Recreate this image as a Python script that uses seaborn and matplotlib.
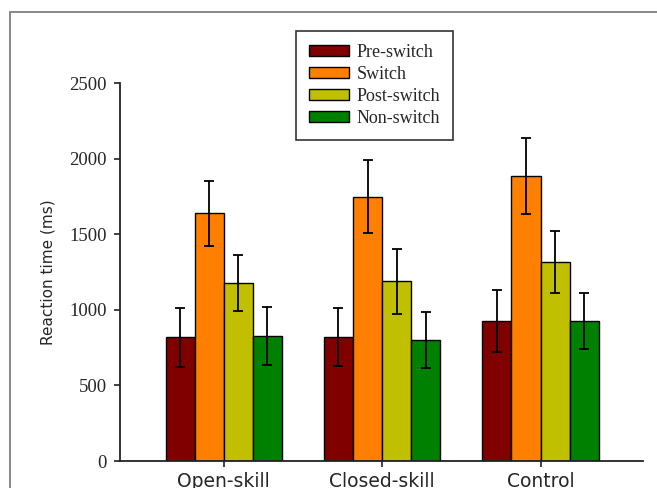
import pandas as pd
import numpy as np
import matplotlib
matplotlib.use("Agg")
import matplotlib.pyplot as plt
import matplotlib.patches as mpatches
import seaborn as sns

groups = ["Open-skill", "Closed-skill", "Control"]
conditions = ["Pre-switch", "Switch", "Post-switch", "Non-switch"]
pre_switch = [820, 820, 928]
switch = [1640, 1748, 1885]
post_switch = [1180, 1190, 1316]
non_switch = [828, 800, 926]
pre_err = [195, 190, 206]
switch_err = [215, 240, 250]
post_err = [185, 215, 207]
non_err = [190, 187, 182]
colors = ["#800000", "#FF8000", "#C0C000", "#008000"]

sns.set_theme(style="ticks")
plt.rcParams['font.family'] = ['DejaVu Sans']

rows = []
for cond, vals in zip(conditions, [pre_switch, switch, post_switch, non_switch]):
    for g, v in zip(groups, vals):
        rows.append({"Group": g, "Condition": cond, "RT": v})
df = pd.DataFrame(rows)
errs = [pre_err, switch_err, post_err, non_err]

fig = plt.figure(figsize=(6.57, 4.88), dpi=100)
ax = fig.add_axes([120/657, 1-461/488, (643-120)/657, (461-83)/488])

sns.barplot(data=df, x="Group", y="RT", hue="Condition", order=groups, hue_order=conditions,
            palette=colors, width=0.735, errorbar=None, saturation=1,
            edgecolor="black", linewidth=1, ax=ax)

# error bars on top of each bar
for cont, e_list in zip(ax.containers, errs):
    for bar, e in zip(cont, e_list):
        xc = bar.get_x() + bar.get_width() / 2
        ax.errorbar(xc, bar.get_height(), yerr=e, fmt="none", ecolor="black",
                    elinewidth=1.3, capsize=3.3, capthick=1.3, zorder=5)

ax.set_ylim(0, 2500)
ax.set_yticks([0, 500, 1000, 1500, 2000, 2500])
ax.set_xlim(-0.655, 2.647)
ax.set_xlabel("")
ax.set_ylabel("Reaction time (ms)", fontsize=11, labelpad=10, family="DejaVu Sans")
sns.despine(ax=ax)
for s in ["left", "bottom"]:
    ax.spines[s].set_linewidth(1.3)
    ax.spines[s].set_color("#222222")
ax.tick_params(axis="both", direction="out", length=4.3, width=1.2, color="#222222")
ax.tick_params(axis="y", pad=5)
for t in ax.get_yticklabels():
    t.set_family("Liberation Serif")
    t.set_fontsize(13.5)
for t in ax.get_xticklabels():
    t.set_family("DejaVu Sans")
    t.set_fontsize(13.5)

handles, labels = ax.get_legend_handles_labels()
leg = ax.legend(handles, labels, loc="upper left", bbox_to_anchor=(296/657, 1-31/488),
                bbox_transform=fig.transFigure, prop={"family": "Liberation Serif", "size": 13},
                frameon=True, fancybox=False, edgecolor="#333333", framealpha=1,
                handlelength=2.2, handleheight=0.55, handletextpad=0.45,
                borderpad=0.72, labelspacing=0.27, borderaxespad=0)
leg.get_frame().set_linewidth(1.2)

# outer frame of the figure panel
fig.add_artist(mpatches.Rectangle((10/657, -0.1), 1.2, 1-12/488+0.1, transform=fig.transFigure,
                                  fill=False, edgecolor="#7f7f7f", linewidth=1.3))

fig.savefig("out.png", dpi=100)
